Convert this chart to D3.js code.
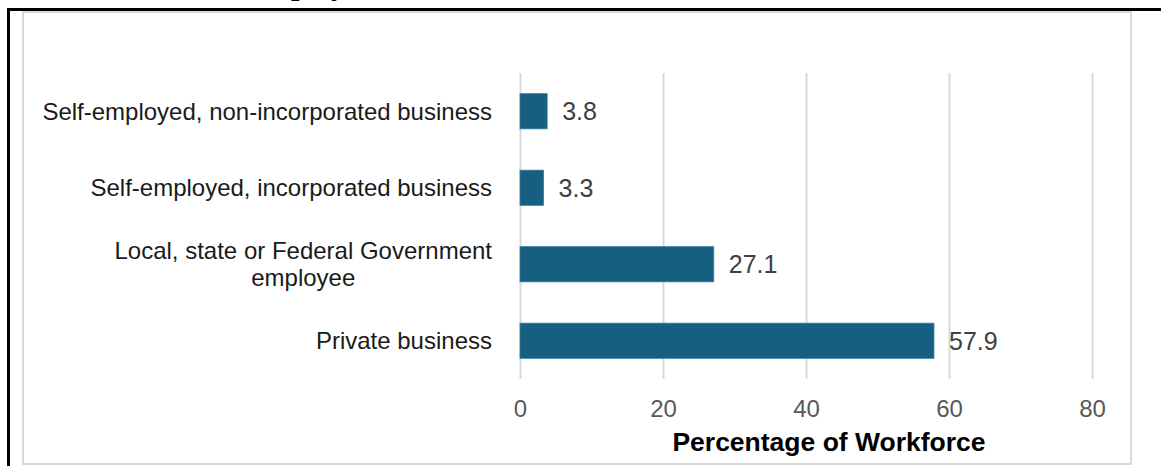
<!DOCTYPE html>
<html>
<head>
<meta charset="utf-8">
<script src="https://cdn.jsdelivr.net/npm/d3@7"></script>
<style>
  body { margin: 0; background: #fff; }
  text { font-family: "Liberation Sans", Arial, sans-serif; }
</style>
</head>
<body>
<div id="chart"></div>
<script>
// categories top to bottom, with values in percent
const categories = [
    "Self-employed, non-incorporated business",
    "Self-employed, incorporated business",
    "Local, state or Federal Government employee",
    "Private business"
];
const values = [3.8, 3.3, 27.1, 57.9];
const tickValues = [0, 20, 40, 60, 80];
const axisTitle = "Percentage of Workforce";
const clippedTitle = "Employment";

// wrapped label lines (Excel wraps the long one)
const labelLines = {
    "Local, state or Federal Government employee": ["Local, state or Federal Government", "employee"]
};

const width = 1161, height = 466;

let svg = d3.select("#chart").append("svg")
    .attr("width", width)
    .attr("height", height);

svg.append("rect").attr("width", width).attr("height", height).attr("fill", "#fff");

// title cut off at the top of the picture, only the descenders show
svg.append("text")
    .attr("x", 246).attr("y", -5)
    .attr("font-weight", "bold")
    .attr("font-size", 30)
    .style("font-family", "'Liberation Serif', serif")
    .text(clippedTitle);

// black frame (top and left)
svg.append("rect").attr("x", 7).attr("y", 8).attr("width", width - 7).attr("height", 3).attr("fill", "#000");
svg.append("rect").attr("x", 7).attr("y", 8).attr("width", 3).attr("height", height - 8).attr("fill", "#000");

// light grey chart border
svg.append("rect")
    .attr("x", 23).attr("y", 12)
    .attr("width", 1108).attr("height", 452)
    .attr("fill", "none")
    .attr("stroke", "#d9d9d9")
    .attr("stroke-width", 2);

let plotTop = 73, plotBottom = 379;

let x = d3.scaleLinear().domain([0, 80]).range([520, 1092]);
let y = d3.scaleBand().domain(categories).range([plotTop, plotBottom])
    .paddingInner(0.54).paddingOuter(0.27);

// gridlines + tick labels
let xAxis = d3.axisBottom(x)
    .tickValues(tickValues)
    .tickSize(-(plotBottom - plotTop))
    .tickPadding(0);

let gx = svg.append("g")
    .attr("transform", "translate(0," + plotBottom + ")")
    .call(xAxis);
gx.select(".domain").remove();
gx.selectAll(".tick line").attr("stroke", "#d9d9d9").attr("stroke-width", 2);
gx.selectAll(".tick text")
    .attr("y", 38)
    .attr("dy", 0)
    .attr("fill", "#595959")
    .attr("font-size", 24)
    .style("font-family", "'Liberation Sans', Arial, sans-serif");

// bars
svg.append("g").selectAll("rect")
    .data(categories)
    .join("rect")
    .attr("x", x(0))
    .attr("y", d => y(d))
    .attr("width", (d, i) => x(values[i]) - x(0))
    .attr("height", y.bandwidth())
    .attr("fill", "#175f80")
    .attr("stroke", "#3a7f9e")
    .attr("stroke-width", 0.8);

// value labels
svg.append("g").selectAll("text")
    .data(categories)
    .join("text")
    .attr("x", (d, i) => x(values[i]) + 15)
    .attr("y", d => y(d) + y.bandwidth() / 2)
    .attr("dy", "0.35em")
    .attr("fill", "#404040")
    .attr("font-size", 25)
    .text((d, i) => values[i].toFixed(1));

// category labels
let labelX = 492;
categories.forEach(c => {
    let lines = labelLines[c];
    let cy = y(c) + y.bandwidth() / 2;
    if (!lines) {
        svg.append("text")
            .attr("x", labelX).attr("y", cy).attr("dy", "0.35em")
            .attr("text-anchor", "end")
            .attr("fill", "#1a1a1a")
            .attr("font-size", 24)
            .text(c);
    } else {
        let lh = 27;
        let t = svg.append("text")
            .attr("text-anchor", "middle")
            .attr("fill", "#1a1a1a")
            .attr("font-size", 24);
        lines.forEach((l, i) => {
            t.append("tspan")
                .attr("y", cy + (i - (lines.length - 1) / 2) * lh)
                .attr("dy", "0.35em")
                .text(l);
        });
        // center the block on the widest line, right edge at labelX
        let w = d3.max(t.selectAll("tspan").nodes(), n => n.getComputedTextLength());
        t.selectAll("tspan").attr("x", labelX - w / 2);
    }
});

// axis title
svg.append("text")
    .attr("x", 829).attr("y", 451)
    .attr("text-anchor", "middle")
    .attr("font-weight", "bold")
    .attr("font-size", 26.5)
    .attr("fill", "#000")
    .text(axisTitle);
</script>
</body>
</html>
